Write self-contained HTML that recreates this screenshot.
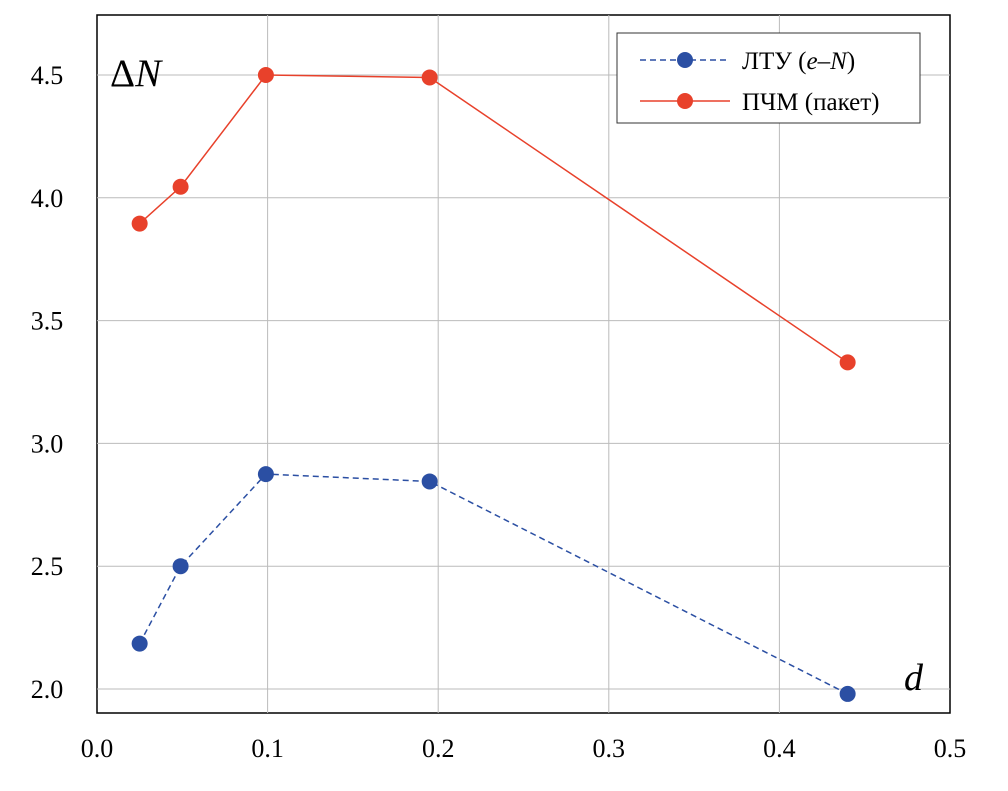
<!DOCTYPE html>
<html><head><meta charset="utf-8"><style>
body{margin:0;background:#fff}
svg{display:block;font-family:"Liberation Serif",serif}
</style></head><body>
<svg id="c" width="1008" height="791">
<rect x="97" y="15" width="853" height="698" fill="#fff" stroke="#000" stroke-width="1.5"/>
<g id="grid"></g><g id="ticks"></g><g id="series"></g>
<text x="110" y="86" font-size="39">Δ<tspan font-style="italic">N</tspan></text>
<text x="904" y="690" font-size="38" font-style="italic">d</text>
<g>
<rect x="617" y="33" width="303" height="90" fill="#fff" stroke="#333" stroke-width="1"/>
<line x1="640" y1="60" x2="730" y2="60" stroke="#2b4fa3" stroke-width="1.5" stroke-dasharray="6,4"/>
<circle cx="685" cy="60" r="8" fill="#2b4fa3"/>
<text x="742" y="69" font-size="25">ЛТУ (<tspan font-style="italic">e</tspan>–<tspan font-style="italic">N</tspan>)</text>
<line x1="640" y1="101" x2="730" y2="101" stroke="#e8412b" stroke-width="1.5"/>
<circle cx="685" cy="101" r="8" fill="#e8412b"/>
<text x="742" y="110" font-size="25">ПЧМ (пакет)</text>
</g>
</svg>
<script>
const xTicks=[0.0,0.1,0.2,0.3,0.4,0.5];
const yTicks=[2.0,2.5,3.0,3.5,4.0,4.5];
const xVals=[0.025,0.049,0.099,0.195,0.44];
const ltu=[2.185,2.5,2.875,2.845,1.98];
const pchm=[3.895,4.045,4.5,4.49,3.33];
const NS="http://www.w3.org/2000/svg";
const X=v=>97+v*1706, Y=v=>689-(v-2)*245.6;
function mk(t,a,p){const e=document.createElementNS(NS,t);for(const k in a)e.setAttribute(k,a[k]);p.appendChild(e);return e;}
const g=document.getElementById('grid'),tk=document.getElementById('ticks'),s=document.getElementById('series');
xTicks.forEach(v=>{
 if(v>0&&v<0.5){const l=mk('line',{x1:X(v),x2:X(v),y1:15,y2:713,stroke:'#bbb','stroke-width':1},g);
 
 }
 const t=mk('text',{x:X(v),y:757,'font-size':26,'text-anchor':'middle'},tk);t.textContent=v.toFixed(1);
 
 
});
yTicks.forEach(v=>{
 const l=mk('line',{x1:97,x2:950,y1:Y(v),y2:Y(v),stroke:'#bbb','stroke-width':1},g);
 
 
 const t=mk('text',{x:47,y:Y(v)+9,'font-size':26,'text-anchor':'middle'},tk);t.textContent=v.toFixed(1);
 
 
});
function draw(vals,col,dash,name){
 const p=mk('polyline',{points:xVals.map((x,i)=>X(x)+','+Y(vals[i])).join(' '),fill:'none',stroke:col,'stroke-width':1.5,'stroke-dasharray':dash},s);
 
 
 xVals.forEach((x,i)=>{const c=mk('circle',{cx:X(x),cy:Y(vals[i]),r:8,fill:col},s);
 
 });
}
draw(ltu,'#2b4fa3','6,4','ltu');
draw(pchm,'#e8412b','none','pchm');
</script>
</body></html>
